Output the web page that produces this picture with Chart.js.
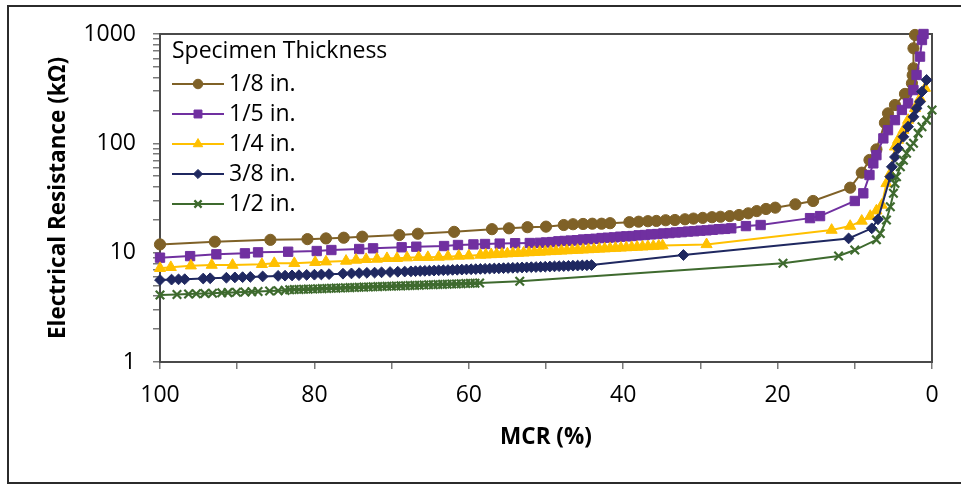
<!DOCTYPE html>
<html>
<head>
<meta charset="utf-8">
<script src="https://cdn.jsdelivr.net/npm/chart.js@4.4.0/dist/chart.umd.min.js"></script>
<style>
  html, body { margin: 0; padding: 0; background: #fff; }
  canvas { display: block; }
</style>
</head>
<body>
<canvas id="chart" width="961" height="485"></canvas>
<script>
const seriesLabels = ["1/8 in.", "1/5 in.", "1/4 in.", "3/8 in.", "1/2 in."];
const xTickLabels = [100, 80, 60, 40, 20, 0];
const yTickLabels = [1, 10, 100, 1000];

// MCR (%) and electrical resistance (kΩ), one pair of arrays per thickness
const mcr18 = [100, 92.9, 85.7, 80.9, 78.5, 76.2, 73.8, 69.0, 66.6, 61.9,
  57.0, 54.8, 52.4, 50.0, 47.7, 46.5, 45.2, 44.0, 42.8, 41.7,
  39.2, 38.0, 36.8, 35.7, 34.5, 33.3, 32.0, 30.9, 29.7, 28.5,
  27.4, 26.2, 25.0, 23.8, 22.7, 21.5, 20.3, 17.7, 15.4, 10.6,
  9.1, 8.1, 7.2, 6.1, 5.7, 4.8, 3.5, 2.6, 2.5, 2.4, 2.4, 2.2];
const res18 = [11.9, 12.6, 13.1, 13.3, 13.5, 13.7, 14.0, 14.5, 14.9, 15.5,
  16.4, 16.7, 17.1, 17.3, 17.9, 18.2, 18.3, 18.4, 18.4, 18.6,
  19.0, 19.2, 19.4, 19.5, 19.8, 19.9, 20.2, 20.5, 20.8, 21.1,
  21.3, 21.6, 22.1, 22.9, 24.0, 25.1, 25.8, 27.7, 29.7, 39.3,
  53.9, 70.4, 88, 154, 188, 224, 283, 354, 420, 486, 740, 980];

const mcr15 = [100, 96.1, 92.7, 89.0, 87.3, 83.4, 79.7, 77.8, 74.2, 72.4,
  68.7, 66.8, 63.2, 61.4, 59.4, 57.9, 56.0, 54.0, 52.1,
  50.8, 50.0, 49.2, 48.4, 47.6, 46.8, 46.0, 45.2, 44.4, 43.6,
  42.8, 42.0, 41.2, 40.4, 39.6, 38.8, 38.0, 37.2, 36.4, 35.6,
  34.8, 34.0, 33.2, 32.4, 31.6, 30.8, 30.0, 29.2, 28.4, 27.6,
  26.8, 26.0, 24.1, 22.2, 15.8, 14.5, 10.0, 8.9, 8.1, 7.6,
  7.2, 6.3, 5.7, 4.8, 3.9, 3.1, 2.4, 2.0, 1.55, 1.3, 1.1];
const res15 = [9.0, 9.3, 9.66, 9.86, 10.07, 10.2, 10.35, 10.57, 10.8, 10.96,
  11.2, 11.34, 11.5, 11.75, 11.9, 12.0, 12.1, 12.2, 12.25,
  12.3, 12.4, 12.5, 12.7, 12.8, 12.9, 13.0, 13.2, 13.3, 13.4,
  13.6, 13.7, 13.8, 14.0, 14.1, 14.2, 14.4, 14.5, 14.7, 14.8,
  15.0, 15.1, 15.3, 15.4, 15.6, 15.7, 15.9, 16.0, 16.2, 16.4,
  16.5, 16.7, 17.5, 17.9, 20.7, 21.6, 29.7, 34.9, 51.3, 65.6,
  78, 111, 132, 163, 202, 232, 307, 422, 621, 881, 1000];

const mcr14 = [100, 98.6, 96.0, 93.3, 90.6, 86.8, 85.2, 82.6, 79.9, 78.5,
  75.9, 74.6, 73.3, 71.9, 70.6, 69.3, 68.0, 66.5, 65.3, 63.9,
  62.7, 61.3, 60.0, 58.5,
  57.8, 57.1, 56.4, 55.7, 55.0, 54.3, 53.6, 52.9, 52.2, 51.5,
  50.8, 50.1, 49.4, 48.7, 48.0, 47.3, 46.6, 45.9, 45.2, 44.5,
  43.8, 43.1, 42.4, 41.7, 41.0, 40.3, 39.6, 38.9, 38.2, 37.5,
  36.8, 36.1, 35.4, 34.9,
  29.2, 13.0, 10.6, 9.1, 8.0, 7.2, 6.5, 5.9, 5.4, 4.8,
  4.4, 3.7, 3.1, 2.2, 1.55, 0.9];
const res14 = [7.2, 7.35, 7.6, 7.7, 7.7, 7.83, 8.0, 8.0, 8.17, 8.27,
  8.39, 8.57, 8.7, 8.75, 8.88, 8.88, 9.0, 9.08, 9.08, 9.13,
  9.2, 9.32, 9.38, 9.52,
  9.57, 9.63, 9.69, 9.74, 9.80, 9.86, 9.91, 9.97, 10.03, 10.09,
  10.15, 10.21, 10.27, 10.33, 10.39, 10.45, 10.51, 10.57, 10.63, 10.69,
  10.76, 10.82, 10.88, 10.95, 11.01, 11.07, 11.14, 11.2, 11.27, 11.33,
  11.4, 11.47, 11.53, 11.6,
  11.9, 16.1, 17.5, 19.5, 21.6, 24.2, 27.3, 43, 53, 93,
  107, 132, 163, 209, 258, 320];

const mcr38 = [100, 98.5, 97.6, 96.8, 94.4, 93.5, 91.4, 90.3, 89.3, 88.3,
  86.7, 84.7, 83.8, 82.9, 82.0, 81.0, 80.0, 79.1, 78.1, 76.3,
  75.2, 74.2, 73.2, 72.2, 71.3, 70.2, 69.2, 68.3,
  67.5, 66.9, 66.3, 65.7, 65.1, 64.5, 63.9, 63.3, 62.7, 62.1,
  61.5, 60.9, 60.3, 59.7, 59.1, 58.5, 57.9, 57.3, 56.7, 56.1,
  55.5, 54.9, 54.3, 53.7, 53.1, 52.5, 51.9, 51.3, 50.7, 50.1,
  49.5, 48.9, 48.3, 47.7, 47.1, 46.5, 45.9, 45.3, 44.7, 44.1,
  32.2, 10.8, 7.8, 7.0, 5.4, 5.2, 4.8, 4.4, 3.7, 3.1,
  2.4, 2.0, 1.55, 1.3, 0.7];
const res38 = [5.62, 5.67, 5.70, 5.72, 5.80, 5.83, 5.90, 5.94, 5.97, 6.00,
  6.06, 6.13, 6.16, 6.19, 6.22, 6.26, 6.29, 6.32, 6.36, 6.42,
  6.46, 6.50, 6.54, 6.57, 6.61, 6.65, 6.69, 6.72,
  6.75, 6.77, 6.80, 6.82, 6.84, 6.86, 6.89, 6.91, 6.93, 6.96,
  6.98, 7.00, 7.03, 7.05, 7.07, 7.10, 7.12, 7.15, 7.17, 7.19,
  7.22, 7.24, 7.27, 7.29, 7.32, 7.34, 7.37, 7.39, 7.42, 7.44,
  7.47, 7.49, 7.52, 7.54, 7.57, 7.60, 7.62, 7.65, 7.67, 7.70,
  9.52, 13.5, 16.7, 20.2, 49.5, 61, 75, 90, 115, 142,
  175, 209, 240, 297, 380];

const mcr12 = [100, 97.8, 96.3, 95.3, 94.2, 93.2, 92.0, 91.2, 90.1, 89.0,
  88.1, 87.3, 85.8, 84.7, 83.8,
  83.2, 82.6, 82.0, 81.4, 80.8, 80.2, 79.6, 79.0, 78.4, 77.8,
  77.2, 76.6, 76.0, 75.4, 74.8, 74.2, 73.6, 73.0, 72.4, 71.8,
  71.2, 70.6, 70.0, 69.4, 68.8, 68.2, 67.6, 67.0, 66.4, 65.8,
  65.2, 64.6, 64.0, 63.4, 62.8, 62.2, 61.6, 61.0, 60.4, 59.8,
  59.2, 58.6,
  53.4, 19.3, 12.1, 10.0, 7.2, 6.7, 5.9, 5.4, 5.0, 4.8,
  4.6, 4.1, 3.7, 3.3, 2.8, 2.4, 1.8, 1.3, 0.7, 0.0];
const res12 = [4.10, 4.15, 4.18, 4.21, 4.24, 4.26, 4.29, 4.31, 4.34, 4.37,
  4.40, 4.42, 4.46, 4.49, 4.52,
  4.58, 4.60, 4.61, 4.63, 4.64, 4.66, 4.68, 4.69, 4.71, 4.72,
  4.74, 4.76, 4.77, 4.79, 4.80, 4.82, 4.84, 4.85, 4.87, 4.89,
  4.90, 4.92, 4.94, 4.95, 4.97, 4.99, 5.01, 5.02, 5.04, 5.06,
  5.08, 5.09, 5.11, 5.13, 5.15, 5.16, 5.18, 5.20, 5.22, 5.24,
  5.26, 5.28,
  5.48, 8.0, 9.33, 10.57, 13.1, 15.0, 19.9, 26.3, 34.9, 43,
  49.5, 61, 70, 81, 93, 100, 124, 142, 163, 202];

const mcrSets = [mcr18, mcr15, mcr14, mcr38, mcr12];
const resSets = [res18, res15, res14, res38, res12];

const colors = ["#7f6127", "#7030a0", "#ffc000", "#1f2860", "#3e6a2e"];
const markers = ["circle", "rect", "triangle", "rectRot", "crossRot"];
const markerRadius = [5.6, 6.6, 6.4, 5.4, 6];
const markerBorder = [1, 1, 1, 1, 2.2];

const FONT = "'Open Sans', 'Liberation Sans', sans-serif";

const datasets = seriesLabels.map((label, i) => ({
  label,
  data: mcrSets[i].map((x, k) => ({ x, y: resSets[i][k] })),
  showLine: true,
  borderColor: colors[i],
  backgroundColor: colors[i],
  borderWidth: 2,
  pointStyle: markers[i],
  pointRadius: markerRadius[i],
  pointBackgroundColor: colors[i],
  pointBorderColor: colors[i],
  pointBorderWidth: markerBorder[i],
  clip: false,
  order: seriesLabels.length - i,
}));

// box around the plot area and the outer frame
const frames = {
  id: "frames",
  beforeDatasetsDraw(chart) {
    const { ctx, chartArea: a } = chart;
    ctx.save();
    ctx.strokeStyle = "#4a4a4a";
    ctx.lineWidth = 2;
    ctx.strokeRect(a.left, a.top, a.right - a.left, a.bottom - a.top);
    ctx.strokeStyle = "#2b2b2b";
    ctx.strokeRect(8, 6, 970, 477);
    ctx.restore();
  },
};

// legend drawn inside the top-left corner of the plot
const plotLegend = {
  id: "plotLegend",
  afterDatasetsDraw(chart) {
    const { ctx, chartArea: a } = chart;
    const x0 = a.left + 12;
    ctx.save();
    ctx.font = "23px " + FONT;
    ctx.textBaseline = "middle";
    ctx.textAlign = "left";
    ctx.fillStyle = "#000";
    ctx.fillText("Specimen Thickness", x0, a.top + 17);
    chart.data.datasets.forEach((ds, i) => {
      const y = a.top + 50 + i * 30;
      ctx.strokeStyle = ds.borderColor;
      ctx.lineWidth = 2;
      ctx.beginPath();
      ctx.moveTo(x0, y);
      ctx.lineTo(x0 + 52, y);
      ctx.stroke();
      ctx.fillStyle = ds.pointBackgroundColor;
      ctx.strokeStyle = ds.pointBorderColor;
      ctx.lineWidth = ds.pointBorderWidth;
      Chart.helpers.drawPoint(ctx, {
        pointStyle: ds.pointStyle,
        radius: ds.pointRadius * 0.85,
        borderWidth: ds.pointBorderWidth,
        rotation: 0,
      }, x0 + 26, y);
      ctx.fillStyle = "#000";
      ctx.fillText(ds.label, x0 + 57, y);
    });
    ctx.restore();
  },
};

new Chart(document.getElementById("chart"), {
  type: "scatter",
  data: { datasets },
  plugins: [frames, plotLegend],
  options: {
    responsive: false,
    animation: false,
    events: [],
    layout: { padding: { top: 34, right: 29, bottom: 0, left: 0 } },
    plugins: { legend: { display: false }, tooltip: { enabled: false } },
    scales: {
      x: {
        type: "linear",
        reverse: true,
        min: 0,
        max: 100,
        afterFit(scale) { scale.height = 123; },
        border: { color: "#4a4a4a", width: 2 },
        grid: { drawOnChartArea: false, drawTicks: true, tickLength: 7, color: "#7a7a7a", lineWidth: 1.5 },
        ticks: {
          stepSize: 10,
          autoSkip: false,
          maxRotation: 0,
          padding: 13,
          color: "#000",
          font: { family: FONT, size: 23 },
          callback: (v) => (xTickLabels.includes(v) ? String(v) : ""),
        },
        title: {
          display: true,
          text: "MCR (%)",
          color: "#000",
          font: { family: FONT, size: 22.5, weight: "bold" },
          padding: { top: 0, bottom: 34 },
        },
      },
      y: {
        type: "logarithmic",
        min: 1,
        max: 1000,
        afterFit(scale) { scale.width = 160; },
        afterBuildTicks(scale) {
          const ticks = [];
          yTickLabels.slice(0, -1).forEach((d) => {
            for (let m = 1; m < 10; m++) ticks.push({ value: d * m });
          });
          ticks.push({ value: yTickLabels[yTickLabels.length - 1] });
          scale.ticks = ticks;
        },
        border: { color: "#4a4a4a", width: 2 },
        grid: { drawOnChartArea: false, drawTicks: true, tickLength: 7, color: "#7a7a7a", lineWidth: 1.5 },
        ticks: {
          autoSkip: false,
          padding: 17,
          color: "#000",
          font: { family: FONT, size: 23 },
          callback: (v) => (yTickLabels.includes(v) ? String(v) : ""),
        },
        title: {
          display: true,
          text: "Electrical Resistance (kΩ)",
          color: "#000",
          font: { family: FONT, size: 22.5, weight: "bold" },
          padding: { top: 45, bottom: 0 },
        },
      },
    },
  },
});
</script>
</body>
</html>
